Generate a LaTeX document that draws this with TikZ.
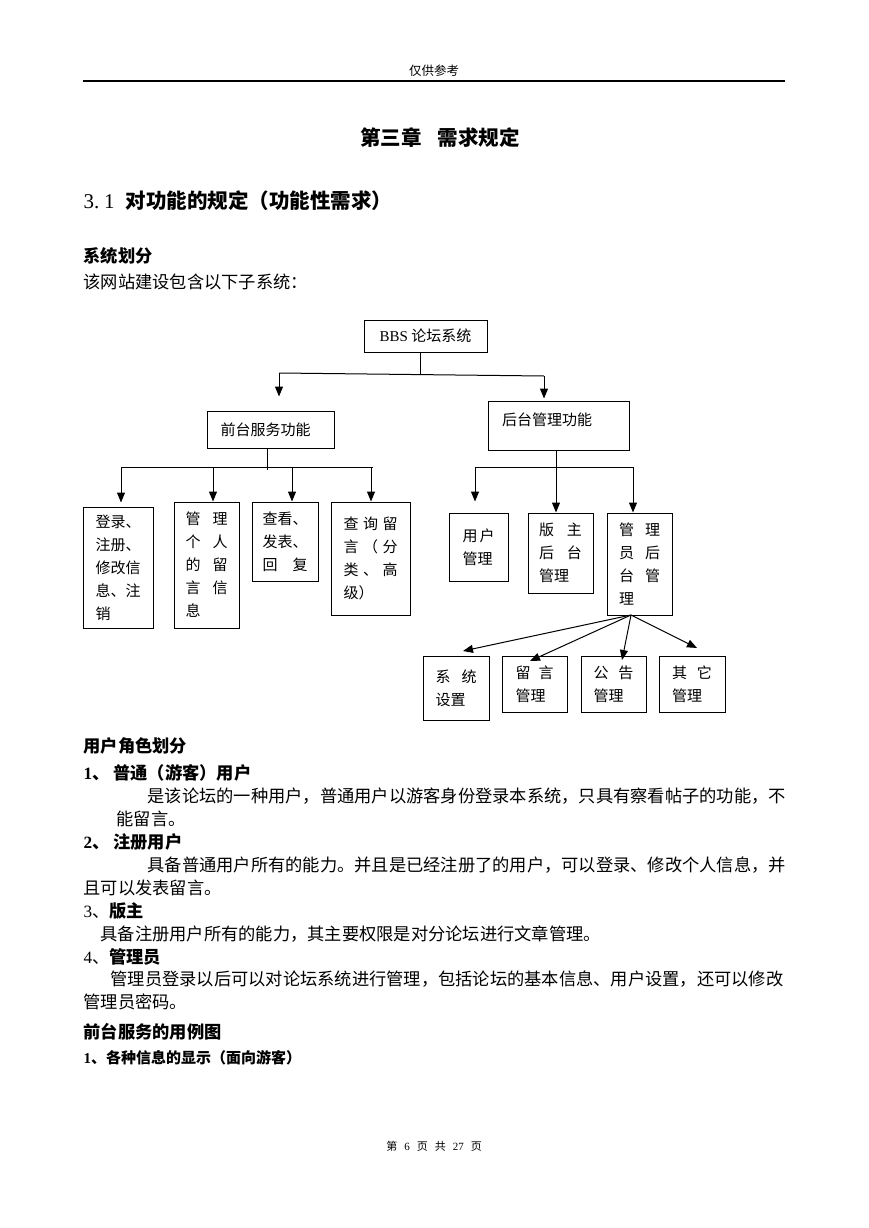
\documentclass[tikz,border=0pt]{standalone}
\usepackage{fontspec}
\setmainfont{Noto Sans CJK SC}
\newfontfamily\lat{Liberation Serif}
\usetikzlibrary{arrows.meta}

\newcommand\spread[2]{\hbox to #1pt{#2}}

\tikzset{every picture/.style={line width=1pt}}
\tikzset{
  box/.style={draw, line width=1pt, inner sep=0pt, align=left, font=\fontsize{15}{23}\selectfont},
  arr/.style={-{Triangle[length=10pt,width=8pt]}},
  txt/.style={anchor=west, inner sep=0pt, font=\fontsize{17.25}{20}\selectfont},
  bold/.style={txt, font=\fontsize{17.25}{20}\selectfont\bfseries},
}

\begin{document}
\begin{tikzpicture}[x=1pt,y=1pt,yscale=-1,xscale=1]
\fill[white] (0,0) rectangle (869,1228);
\useasboundingbox (0,0) rectangle (869,1228);

% Header
\node (hdr) at (434,71) [inner sep=0pt, font=\fontsize{12.5}{14}\selectfont] {仅供参考};
\draw [line width=1.3pt] (83,81) -- (785,81);

% Title and section
\node (ttl) at (440,138) [inner sep=0pt, font=\fontsize{20.5}{24}\selectfont\bfseries] {第三章\hspace{0.8em}需求规定};
\node (sec) at (83,201) [txt, font=\fontsize{20.5}{24}\selectfont\bfseries] {{\lat\mdseries\fontsize{21}{24}\selectfont 3.\hspace{5pt}1}\hspace{11pt}对功能的规定（功能性需求）};
\node (part) at (83,256) [bold] {系统划分};
\node (intro) at (83,282) [txt] {该网站建设包含以下子系统：};

% Top level
\node (bbs) at (425.5,336) [box, minimum width=123pt, minimum height=32pt] {{\lat BBS} 论坛系统};
\node (front) at (270.5,429.5) [box, minimum width=127pt, minimum height=37pt] {前台服务功能\hspace*{10pt}};
\node (back) at (558.5,425.5) [box, minimum width=141pt, minimum height=49pt,
  label={[anchor=north west, inner sep=0pt, xshift=14pt, yshift=-11.5pt, font=\fontsize{15}{23}\selectfont]north west:后台管理功能}] {};

\coordinate (tj) at (420,374);
\coordinate (tl) at (279,373);
\coordinate (tr) at (544,376);
\draw (bbs.south -| tj) -- (tj);
\draw (tl) -- (tr);
\draw [arr, shorten >=14pt] (tl) -- (tl |- front.north);
\draw [arr, shorten >=2pt] (tr) -- (tr |- back.north);

% Front service boxes
\node (login) at (118,567.5) [box, minimum width=70pt, minimum height=121pt] {登录、\\注册、\\修改信\\息、注\\销};
\node (mine) at (206.5,565) [box, minimum width=65pt, minimum height=126pt] {\spread{42}{管\hfil 理}\\\spread{42}{个\hfil 人}\\\spread{42}{的\hfil 留}\\\spread{42}{言\hfil 信}\\息};
\node (post) at (285,541.5) [box, minimum width=66pt, minimum height=79pt] {查看、\\发表、\\\spread{45}{回\hfil 复}};
\node (query) at (370.5,558.5) [box, minimum width=79pt, minimum height=113pt] {\spread{54}{查\hfil 询\hfil 留}\\\spread{54}{言\hfil （\hfil 分}\\\spread{54}{类\hfil 、\hfil 高}\\级）};

\coordinate (fj) at (267,467);
\coordinate (f1) at (121,467);
\coordinate (f2) at (213,467);
\coordinate (f3) at (292,467);
\coordinate (f4) at (371,467);
\draw (fj |- front.south) -- ([yshift=3pt]fj);
\draw (f1) -- ([xshift=2pt]f4);
\draw [arr, shorten >=4pt] (f1) -- (f1 |- login.north);
\draw [arr] (f2) -- (f2 |- mine.north);
\draw [arr] (f3) -- (f3 |- post.north);
\draw [arr] (f4) -- (f4 |- query.north);

% Back management boxes
\node (user) at (478.5,547) [box, minimum width=59pt, minimum height=68pt] {\spread{32}{用\hfil 户}\\管理};
\node (mod) at (560.5,553) [box, minimum width=65pt, minimum height=80pt] {\spread{43}{版\hfil 主}\\\spread{43}{后\hfil 台}\\管理};
\node (admin) at (639.5,564) [box, minimum width=65pt, minimum height=102pt] {\spread{41}{管\hfil 理}\\\spread{41}{员\hfil 后}\\\spread{41}{台\hfil 管}\\理};

\coordinate (bj) at (556,467);
\coordinate (b1) at (475,467);
\coordinate (b3) at (633,467);
\draw (bj |- back.south) -- (bj);
\draw (b1) -- (b3);
\draw [arr, shorten >=11pt] (b1) -- (b1 |- user.north);
\draw [arr] (bj) -- (bj |- mod.north);
\draw [arr] (b3) -- (b3 |- admin.north);

% Admin sub boxes
\node (sys) at (456,688) [box, minimum width=66pt, minimum height=64pt] {\spread{41}{系\hfil 统}\\设置};
\node (msg) at (534.5,684) [box, minimum width=65pt, minimum height=56pt] {\spread{38}{留\hfil 言}\\管理};
\node (note) at (613.5,684) [box, minimum width=65pt, minimum height=56pt] {\spread{40}{公\hfil 告}\\管理};
\node (misc) at (692,684) [box, minimum width=66pt, minimum height=56pt] {\spread{40}{其\hfil 它}\\管理};

\coordinate (fan) at (631,615);
\coordinate (t1) at (463,651);
\coordinate (t2) at (530,661);
\coordinate (t3) at (622,660);
\coordinate (t4) at (697,648);
\draw [arr] (fan) -- (t1);
\draw [arr] (fan) -- (t2);
\draw [arr] (fan) -- (t3);
\draw [arr] (fan) -- (t4);

% User roles
\node (role) at (83,746) [bold] {用户角色划分};
\node (r1) at (83,773) [bold] {{\lat 1}、\hspace{4pt}普通（游客）用户};
\node (r1a) at (147,796) [txt] {是该论坛的一种用户，普通用户以游客身份登录本系统，只具有察看帖子的功能，不};
\node (r1b) at (116,819) [txt] {能留言。};
\node (r2) at (83,842) [bold] {{\lat 2}、\hspace{4pt}注册用户};
\node (r2a) at (147,865) [txt] {具备普通用户所有的能力。并且是已经注册了的用户，可以登录、修改个人信息，并};
\node (r2b) at (83,888) [txt] {且可以发表留言。};
\node (r3) at (83,911) [txt] {{\lat 3}、{\bfseries 版主}};
\node (r3a) at (100,934) [txt] {具备注册用户所有的能力，其主要权限是对分论坛进行文章管理。};
\node (r4) at (83,957) [txt] {{\lat 4}、{\bfseries 管理员}};
\node (r4a) at (110,979) [txt] {管理员登录以后可以对论坛系统进行管理，包括论坛的基本信息、用户设置，还可以修改};
\node (r4b) at (83,1002) [txt] {管理员密码。};

% Use case heading
\node (uc) at (83,1032) [bold] {前台服务的用例图};
\node (uc1) at (83,1058) [txt, font=\fontsize{15}{18}\selectfont\bfseries] {{\lat 1}、各种信息的显示（面向游客）};

% Footer
\node (ftr) at (434,1146) [inner sep=0pt, font=\fontsize{11}{13}\selectfont] {第\hspace{7pt}{\lat 6}\hspace{7pt}页\hspace{7pt}共\hspace{7pt}{\lat 27}\hspace{7pt}页};

\end{tikzpicture}
\end{document}
